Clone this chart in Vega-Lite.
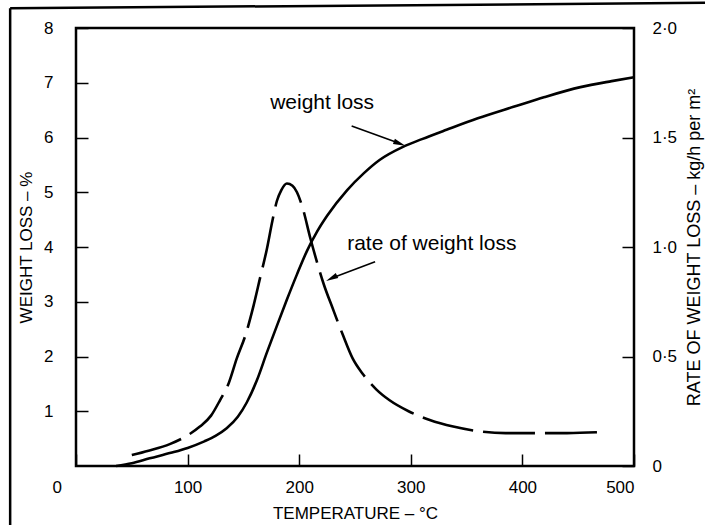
{
  "$schema": "https://vega.github.io/schema/vega-lite/v6.json",
  "width": 558,
  "height": 438,
  "autosize": {"type": "none"},
  "padding": {"left": 76, "top": 28, "right": 71, "bottom": 59},
  "background": "white",
  "config": {
    "font": "Liberation Sans",
    "view": {"stroke": "black", "strokeWidth": 2.5},
    "axis": {
      "domain": false,
      "grid": false,
      "tickColor": "black",
      "tickWidth": 1.5,
      "tickSize": -12,
      "labelColor": "black",
      "titleColor": "black",
      "labelFontSize": 17,
      "titleFontSize": 17,
      "titleFontWeight": "normal",
      "labelFont": "Liberation Sans",
      "titleFont": "Liberation Sans"
    }
  },
  "datasets": {
    "wl": [
      {"T": 36, "W": 0.0}, {"T": 50, "W": 0.05}, {"T": 66, "W": 0.14}, {"T": 85, "W": 0.24},
      {"T": 100, "W": 0.33}, {"T": 115, "W": 0.45}, {"T": 125, "W": 0.55}, {"T": 135, "W": 0.69},
      {"T": 145, "W": 0.9}, {"T": 153, "W": 1.16}, {"T": 162, "W": 1.56}, {"T": 171, "W": 2.07},
      {"T": 180, "W": 2.56}, {"T": 189, "W": 3.04}, {"T": 198, "W": 3.5}, {"T": 207, "W": 3.93},
      {"T": 216, "W": 4.28}, {"T": 225, "W": 4.57}, {"T": 243, "W": 5.04}, {"T": 258, "W": 5.35},
      {"T": 272, "W": 5.59}, {"T": 293, "W": 5.83}, {"T": 310, "W": 5.97}, {"T": 332, "W": 6.14},
      {"T": 360, "W": 6.35}, {"T": 392, "W": 6.56}, {"T": 420, "W": 6.74}, {"T": 452, "W": 6.92},
      {"T": 480, "W": 7.03}, {"T": 500, "W": 7.1}
    ],
    "rate": [
      {"T": 50, "R": 0.05}, {"T": 65, "R": 0.07}, {"T": 84, "R": 0.1}, {"T": 100, "R": 0.14},
      {"T": 111, "R": 0.18}, {"T": 121, "R": 0.23}, {"T": 129, "R": 0.3}, {"T": 137, "R": 0.38},
      {"T": 144, "R": 0.49}, {"T": 152, "R": 0.6}, {"T": 159, "R": 0.73}, {"T": 165, "R": 0.86},
      {"T": 171, "R": 0.99}, {"T": 176, "R": 1.12}, {"T": 180, "R": 1.21}, {"T": 184, "R": 1.26},
      {"T": 189, "R": 1.29}, {"T": 194, "R": 1.28}, {"T": 198, "R": 1.25}, {"T": 203, "R": 1.18},
      {"T": 210, "R": 1.04}, {"T": 216, "R": 0.93}, {"T": 222, "R": 0.83}, {"T": 230, "R": 0.72},
      {"T": 239, "R": 0.6}, {"T": 248, "R": 0.49}, {"T": 257, "R": 0.42}, {"T": 269, "R": 0.35},
      {"T": 281, "R": 0.3}, {"T": 298, "R": 0.25}, {"T": 317, "R": 0.21}, {"T": 338, "R": 0.18},
      {"T": 359, "R": 0.16}, {"T": 385, "R": 0.15}, {"T": 407, "R": 0.15}, {"T": 440, "R": 0.15},
      {"T": 472, "R": 0.155}
    ],
    "notes": [
      {"T": 174, "W": 6.63, "label": "weight loss"},
      {"T": 243, "W": 4.06, "label": "rate of weight loss"}
    ],
    "arrows": [
      {"id": "a1", "T": 247, "W": 6.21}, {"id": "a1", "T": 289, "W": 5.9},
      {"id": "a2", "T": 268, "W": 3.73}, {"id": "a2", "T": 230, "W": 3.44}
    ],
    "heads": [
      {"id": "a1", "T": 290, "W": 5.89},
      {"id": "a2", "T": 229, "W": 3.43}
    ],
    "frame": [
      {"id": "left", "T": -59, "W": -1.3}, {"id": "left", "T": -59, "W": 8.36},
      {"id": "top", "T": -59, "W": 8.36}, {"id": "top", "T": 570, "W": 8.46}
    ]
  },
  "layer": [
    {
      "layer": [
        {
          "data": {"name": "wl"},
          "mark": {"type": "line", "interpolate": "monotone", "color": "black", "strokeWidth": 2.6},
          "encoding": {
            "x": {
              "field": "T", "type": "quantitative", "title": "TEMPERATURE – °C",
              "scale": {"domain": [0, 500], "nice": false, "zero": false},
              "axis": {
                "values": [0, 100, 200, 300, 400, 500],
                "labelPadding": 25,
                "titlePadding": 10,
                "labelOffset": {"condition": {"test": "datum.value === 0", "value": -24}, "value": 0}
              }
            },
            "y": {
              "field": "W", "type": "quantitative", "title": "WEIGHT LOSS – %",
              "scale": {"domain": [0, 8], "nice": false, "zero": false},
              "axis": {"values": [1, 2, 3, 4, 5, 6, 7, 8], "labelPadding": 35, "titlePadding": 8}
            }
          }
        },
        {
          "data": {"name": "notes"},
          "mark": {"type": "text", "align": "left", "baseline": "middle", "fontSize": 21, "color": "black", "font": "Liberation Sans"},
          "encoding": {
            "x": {"field": "T", "type": "quantitative", "title": "TEMPERATURE – °C"},
            "y": {"field": "W", "type": "quantitative", "title": "WEIGHT LOSS – %"},
            "text": {"field": "label"}
          }
        },
        {
          "data": {"name": "arrows"},
          "mark": {"type": "line", "color": "black", "strokeWidth": 1.6},
          "encoding": {
            "x": {"field": "T", "type": "quantitative", "title": "TEMPERATURE – °C"},
            "y": {"field": "W", "type": "quantitative", "title": "WEIGHT LOSS – %"},
            "detail": {"field": "id"}
          }
        },
        {
          "data": {"name": "heads"},
          "transform": [{"filter": "datum.id === 'a1'"}],
          "mark": {"type": "point", "shape": "M0,-1L0.45,1L-0.45,1Z", "filled": true, "color": "black", "opacity": 1, "size": 150, "angle": 111},
          "encoding": {
            "x": {"field": "T", "type": "quantitative", "title": "TEMPERATURE – °C"},
            "y": {"field": "W", "type": "quantitative", "title": "WEIGHT LOSS – %"}
          }
        },
        {
          "data": {"name": "heads"},
          "transform": [{"filter": "datum.id === 'a2'"}],
          "mark": {"type": "point", "shape": "M0,-1L0.45,1L-0.45,1Z", "filled": true, "color": "black", "opacity": 1, "size": 150, "angle": 243},
          "encoding": {
            "x": {"field": "T", "type": "quantitative", "title": "TEMPERATURE – °C"},
            "y": {"field": "W", "type": "quantitative", "title": "WEIGHT LOSS – %"}
          }
        },
        {
          "data": {"name": "frame"},
          "mark": {"type": "line", "color": "black", "strokeWidth": 2.5},
          "encoding": {
            "x": {"field": "T", "type": "quantitative", "title": "TEMPERATURE – °C"},
            "y": {"field": "W", "type": "quantitative", "title": "WEIGHT LOSS – %"},
            "detail": {"field": "id"}
          }
        }
      ]
    },
    {
      "data": {"name": "rate"},
      "mark": {"type": "line", "interpolate": "monotone", "color": "black", "strokeWidth": 2.6, "strokeDash": [52, 10]},
      "encoding": {
        "x": {"field": "T", "type": "quantitative", "title": "TEMPERATURE – °C"},
        "y": {
          "field": "R", "type": "quantitative", "title": "RATE OF WEIGHT LOSS – kg/h per m²",
          "scale": {"domain": [0, 2], "nice": false, "zero": false},
          "axis": {
            "orient": "right",
            "values": [0, 0.5, 1, 1.5, 2],
            "labelExpr": "datum.value === 0 ? '0' : replace(format(datum.value, '.1f'), '.', '·')",
            "labelPadding": 30,
            "titlePadding": 9,
            "titleFontSize": 18,
            "titleAngle": 270,
            "titleBaseline": "top"
          }
        }
      }
    }
  ],
  "resolve": {"scale": {"y": "independent"}}
}
